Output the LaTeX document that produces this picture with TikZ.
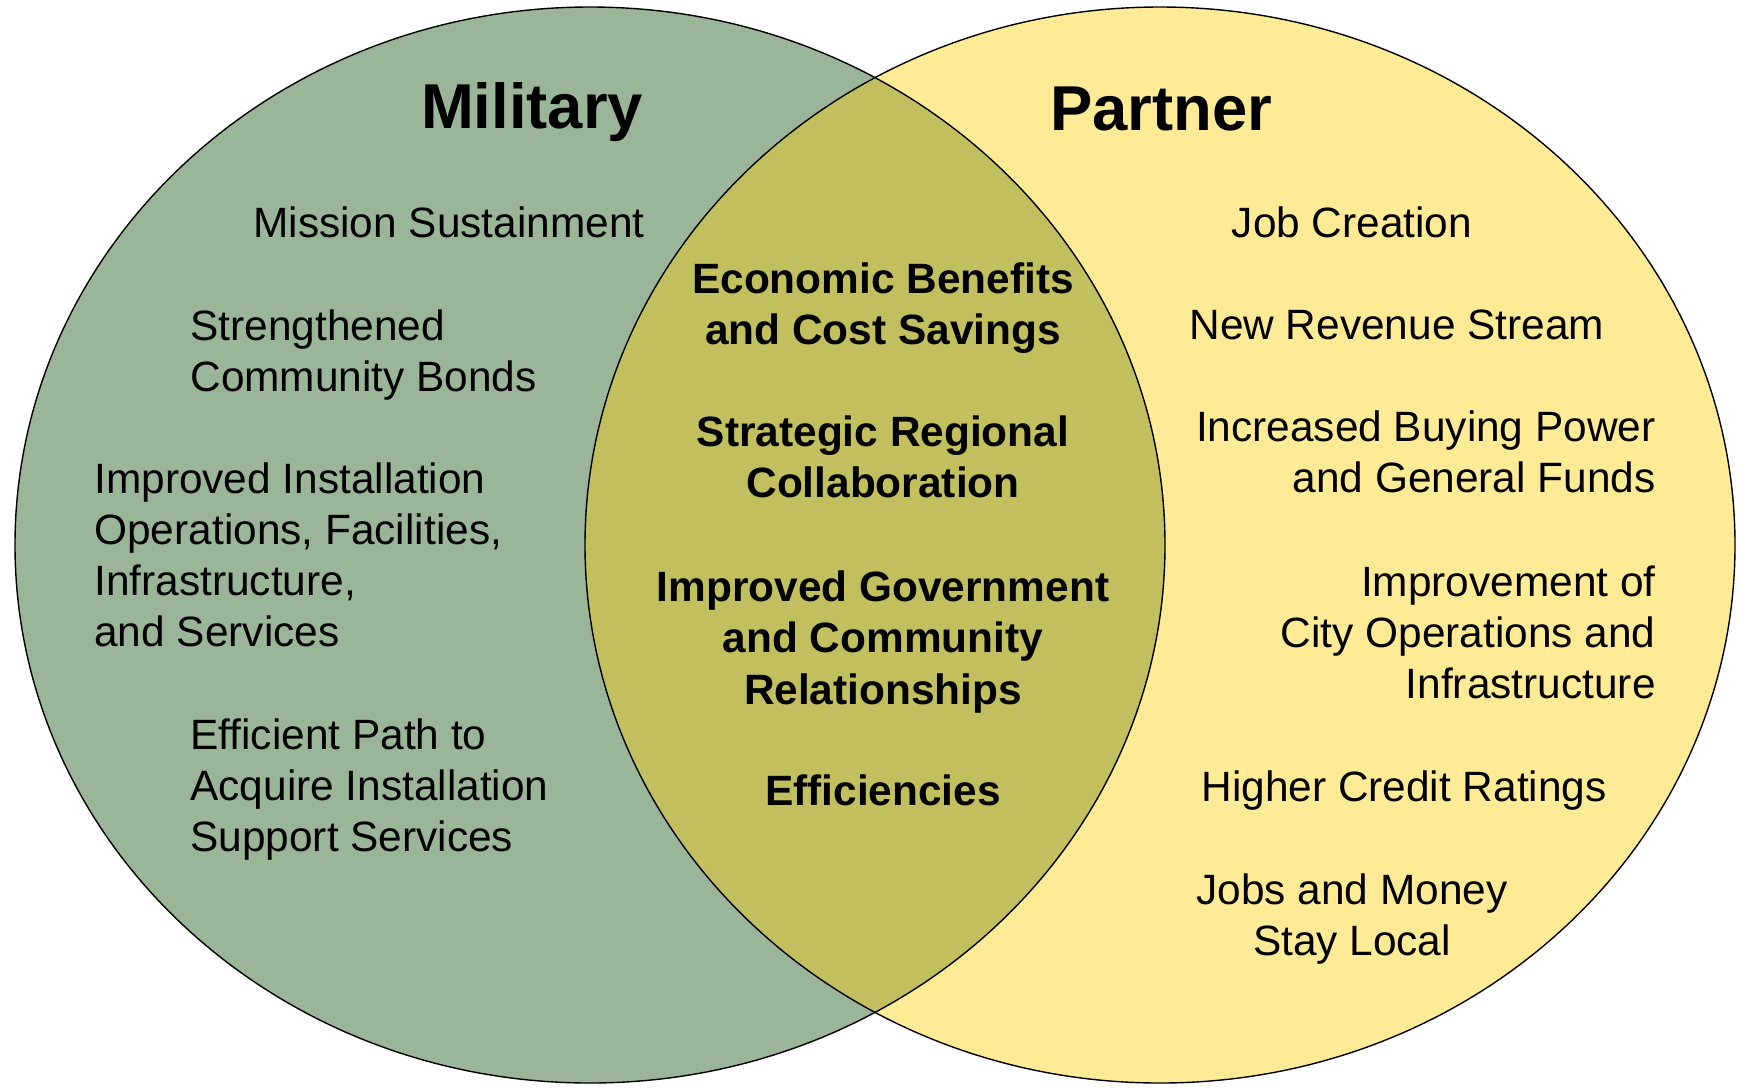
\documentclass[tikz,border=0pt]{standalone}
\usepackage{fontspec}
\setmainfont{Liberation Sans}
\usepackage{tikz}
\usetikzlibrary{positioning}
\definecolor{MilGreen}{RGB}{155,181,153}
\definecolor{PartYellow}{RGB}{255,235,150}
\definecolor{MixOlive}{RGB}{194,191,94}
\newcommand{\milShape}{(590,545) ellipse [x radius=287.5pt, y radius=269pt]}
\newcommand{\partShape}{(1160,545) ellipse [x radius=287.5pt, y radius=269pt]}
\tikzset{
	venntitle/.style={font=\fontsize{31.7}{38}\selectfont\bfseries},
	venntext/.style={font=\fontsize{21.2}{25.5}\selectfont, inner sep=0pt},
	venncore/.style={venntext, font=\fontsize{21.2}{25.8}\selectfont\bfseries, align=center},
	vennline/.style={draw=black, line width=0.7pt}
}
\begin{document}
\begin{tikzpicture}[x=0.5pt, y=-0.5pt]
		\useasboundingbox (0,0) rectangle (1739,1089);
		
		\fill [MilGreen] \milShape;
		\fill [PartYellow] \partShape;
		\begin{scope}
			\clip \milShape;
			\fill [MixOlive] \partShape;
		\end{scope}
		\draw [vennline] \milShape;
		\draw [vennline] \partShape;
		
		\coordinate (mt) at (532,112);
		\coordinate (pt) at (1161,109);
		
		\node [venntitle] (military) at (mt) {Military};
		\node [venntitle] (partner) at (pt) {Partner};
		
		% military side
		\node [venntext, anchor=west, align=left] (mission) at (253,222) {Mission Sustainment};
		\node [venntext, anchor=west, align=left] (bonds) at (190,355) {Strengthened\\Community Bonds};
		\node [venntext, anchor=west, align=left] (install) at (94,555) {Improved Installation\\Operations, Facilities,\\Infrastructure,\\and Services};
		\node [venntext, anchor=west, align=left] (path) at (190,790) {Efficient Path to\\Acquire Installation\\Support Services};
		
		% shared benefits
		\node [venncore] (econ) at (883,308) {Economic Benefits\\and Cost Savings};
		\node [venncore] (collab) at (883,457) {Strategic Regional\\Collaboration};
		\node [venncore] (govt) at (883,642) {Improved Government\\and Community\\Relationships};
		\node [venncore] (effic) at (883,790) {Efficiencies};
		
		% partner side
		\node [venntext, align=center] (jobs) at (1352,222) {Job Creation};
		\node [venntext, anchor=west, align=left] (revenue) at (1189,325) {New Revenue Stream};
		\node [venntext, anchor=east, align=right] (buying) at (1656,452) {Increased Buying Power\\and General Funds};
		\node [venntext, anchor=east, align=right] (city) at (1656,632) {Improvement of\\City Operations and\\Infrastructure};
		\node [venntext, anchor=west, align=left] (credit) at (1201,791) {Higher Credit Ratings};
		\node [venntext, align=center] (local) at (1352,919) {Jobs and Money\\Stay Local};
	\end{tikzpicture}
\end{document}
